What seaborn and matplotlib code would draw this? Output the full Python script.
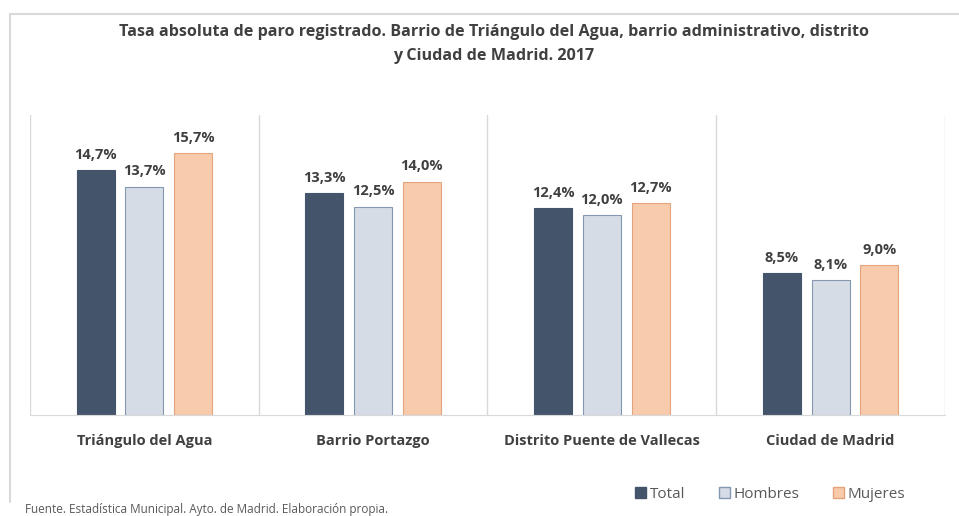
import matplotlib
matplotlib.use("Agg")
import matplotlib.pyplot as plt
import seaborn as sns
import pandas as pd
from matplotlib.patches import Patch
from matplotlib.lines import Line2D

categories = ["Triángulo del Agua", "Barrio Portazgo", "Distrito Puente de Vallecas", "Ciudad de Madrid"]
series = ["Total", "Hombres", "Mujeres"]
total = [14.7, 13.3, 12.4, 8.5]
hombres = [13.7, 12.5, 12.0, 8.1]
mujeres = [15.7, 14.0, 12.7, 9.0]
colors = ["#44546A", "#D6DCE5", "#F8CBAD"]
edges = ["#44546A", "#8497B0", "#E3A47C"]

rows = []
for s, vals in zip(series, [total, hombres, mujeres]):
    for c, v in zip(categories, vals):
        rows.append({"cat": c, "serie": s, "val": v})
df = pd.DataFrame(rows)

sns.set_style("white")
plt.rcParams['font.family'] = ['Open Sans', 'DejaVu Sans']

fig = plt.figure(figsize=(9.59, 5.16), dpi=100)
# outer chart border (top and left only visible)
fig.add_artist(Line2D([9.5/959, 1.0], [1 - 14/516, 1 - 14/516], transform=fig.transFigure,
                      color="#D9D9D9", linewidth=1.5))
fig.add_artist(Line2D([9.5/959, 9.5/959], [1 - 14/516, 1 - 502/516], transform=fig.transFigure,
                      color="#D9D9D9", linewidth=1.5))

ax = fig.add_axes([30/959, 1 - 415/516, 915/959, 300/516])

sns.barplot(data=df, x="cat", y="val", hue="serie", order=categories, hue_order=series,
            palette=colors, saturation=1, width=0.64, gap=0.22, ax=ax, legend=False, errorbar=None)

for i, cont in enumerate(ax.containers):
    for p in cont:
        p.set_edgecolor(edges[i])
        p.set_linewidth(0.8)
    ax.bar_label(cont, labels=[f"{v:.1f}%".replace(".", ",") for v in cont.datavalues],
                 padding=6, fontsize=10.5, fontweight="bold", color="#404040")

ax.set_ylim(0, 18)
ax.set_xlim(-0.5, 3.5)
ax.set_yticks([])
for x in [-0.5, 0.5, 1.5, 2.5, 3.5]:
    ax.axvline(x, color="#D9D9D9", linewidth=1, zorder=0)
for s in ["top", "right", "left"]:
    ax.spines[s].set_visible(False)
ax.spines["bottom"].set_color("#D9D9D9")
ax.set_xlabel("")
ax.set_ylabel("")
ax.tick_params(axis="x", length=0, pad=14, labelsize=10.5, labelcolor="#404040")
for t in ax.get_xticklabels():
    t.set_fontweight("bold")

fig.text(494/959, 1 - 44/516, "Tasa absoluta de paro registrado. Barrio de Triángulo del Agua, barrio administrativo, distrito\ny Ciudad de Madrid. 2017",
         ha="center", va="center", fontsize=11.6, fontweight="bold", color="#404040", linespacing=1.75)

handles = [Patch(facecolor=colors[i], edgecolor=edges[i], label=s) for i, s in enumerate(series)]
fig.legend(handles=handles, loc="center right", bbox_to_anchor=(905/959, 1 - 494/516), ncol=3, frameon=False,
           fontsize=11, handlelength=0.7, handleheight=0.7, handletextpad=0.25, columnspacing=2.2,
           labelcolor="#595959", borderpad=0, borderaxespad=0)

fig.text(25/959, 1 - 510/516, "Fuente. Estadística Municipal. Ayto. de Madrid. Elaboración propia.",
         ha="left", va="center", fontsize=8.5, color="#595959")

fig.savefig("out.png", dpi=100)
